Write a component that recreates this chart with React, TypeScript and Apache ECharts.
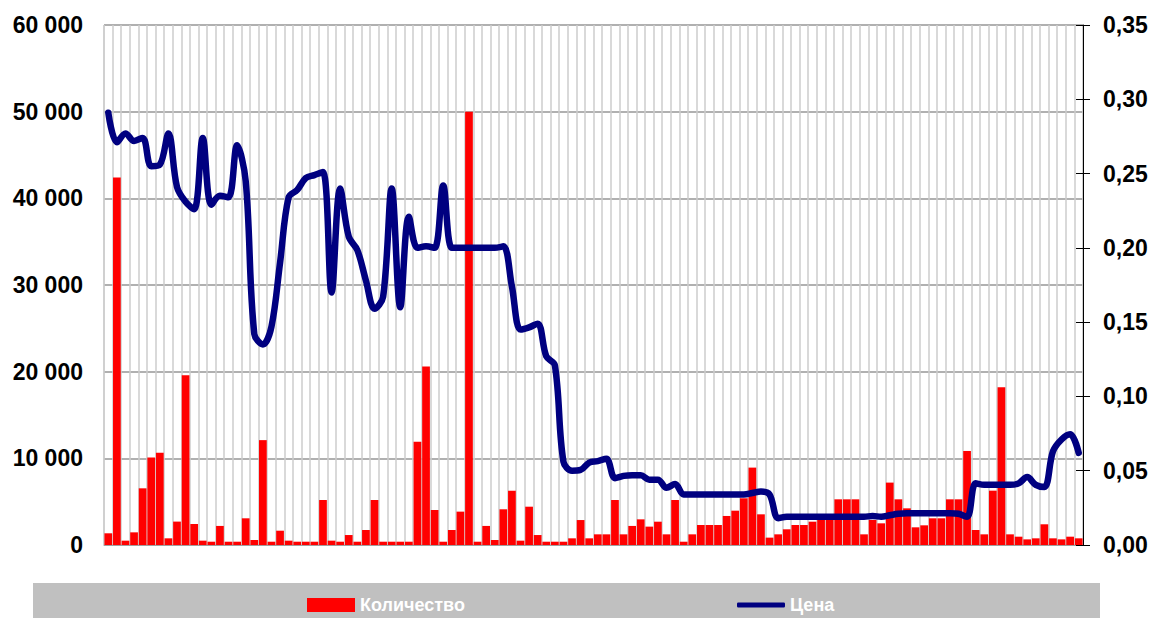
import React, { useEffect, useRef } from "react";
import * as echarts from "echarts";

const quantity: number[] = [
  1350, 42400, 500, 1460, 6540, 10100, 10650, 770, 2700, 19600,
  2420, 500, 380, 2200, 380, 380, 3080, 580, 12100, 380,
  1650, 500, 380, 380, 380, 5190, 500, 380, 1150, 380,
  1730, 5190, 380, 380, 380, 380, 11900, 20600, 4040, 380,
  1730, 3850, 50000, 380, 2200, 580, 4120, 6270, 500, 4420,
  1150, 380, 380, 380, 770, 2880, 770, 1230, 1230, 5190,
  1230, 2200, 2960, 2120, 2690, 1230, 5190, 380, 1230, 2310,
  2310, 2310, 3350, 3960, 5390, 8930, 3540, 850, 1230, 1810,
  2310, 2310, 2690, 2890, 2890, 5270, 5270, 5270, 1230, 2890,
  2500, 7200, 5270, 4230, 2040, 2270, 3080, 3080, 5270, 5270,
  10850, 1730, 1230, 6270, 18200, 1230, 960, 650, 770, 2390,
  770, 650, 960, 770,
];

const price: number[] = [
  0.291, 0.271, 0.277, 0.272, 0.274, 0.255, 0.256, 0.277, 0.241, 0.231,
  0.226, 0.274, 0.229, 0.235, 0.234, 0.269, 0.245, 0.142, 0.135, 0.147,
  0.190, 0.234, 0.239, 0.247, 0.249, 0.251, 0.170, 0.240, 0.2075, 0.1985,
  0.178, 0.159, 0.167, 0.240, 0.160, 0.221, 0.200, 0.201, 0.200, 0.242,
  0.200, 0.200, 0.200, 0.200, 0.200, 0.200, 0.201, 0.174, 0.145, 0.1465,
  0.149, 0.127, 0.121, 0.056, 0.050, 0.0505, 0.0555, 0.0565, 0.058, 0.045,
  0.0465, 0.047, 0.047, 0.044, 0.044, 0.0385, 0.041, 0.034, 0.034, 0.034,
  0.034, 0.034, 0.034, 0.034, 0.034, 0.035, 0.036, 0.034, 0.018, 0.019,
  0.019, 0.019, 0.019, 0.019, 0.019, 0.019, 0.019, 0.019, 0.019, 0.0195,
  0.019, 0.020, 0.021, 0.0214, 0.0214, 0.0214, 0.0214, 0.0214, 0.0214, 0.021,
  0.019, 0.0415, 0.0405, 0.0405, 0.0405, 0.0405, 0.0415, 0.0457, 0.0405, 0.039,
  0.063, 0.071, 0.0745, 0.062,
];

const categories: string[] = quantity.map((_, i) => String(i + 1));

const leftTicks = { min: 0, max: 60000, interval: 10000 };
const rightTicks = { min: 0, max: 0.35, interval: 0.05 };

const seriesNames = { qty: "Количество", price: "Цена" };

const fmtThousands = (v: number) =>
  v === 0 ? "0" : String(v).replace(/\B(?=(\d{3})+(?!\d))/g, " ");
const fmtPrice = (v: number) => v.toFixed(2).replace(".", ",");

export default function App() {
  const ref = useRef<HTMLDivElement>(null);

  useEffect(() => {
    if (!ref.current) return;
    const chart = echarts.init(ref.current, undefined, { renderer: "svg" });
    const labelFont = {
      color: "#000",
      fontWeight: "bold" as const,
      fontSize: 23,
      fontFamily: "Liberation Sans, Arial, sans-serif",
    };
    const legendText = {
      color: "#ffffff",
      fontWeight: "bold" as const,
      fontSize: 18,
      fontFamily: "Liberation Sans, Arial, sans-serif",
    };
    chart.setOption({
      animation: false,
      backgroundColor: "#ffffff",
      graphic: [
        {
          type: "rect",
          shape: { x: 33, y: 583, width: 1067, height: 40 },
          style: { fill: "#c0c0c0" },
          z: -10,
        },
      ],
      grid: {
        left: 104,
        right: 70,
        top: 25,
        bottom: 73,
        show: true,
        borderColor: "#b3b3b3",
        borderWidth: 1,
      },
      legend: [
        {
          data: [{ name: seriesNames.qty, icon: "rect" }],
          left: 307,
          top: 596,
          padding: 0,
          itemWidth: 48,
          itemHeight: 14,
          textStyle: legendText,
        },
        {
          data: [{ name: seriesNames.price, icon: "roundRect" }],
          left: 737,
          top: 596,
          padding: 0,
          itemWidth: 48,
          itemHeight: 5,
          textStyle: legendText,
        },
      ],
      xAxis: {
        type: "category",
        data: categories,
        boundaryGap: true,
        axisLabel: { show: false },
        axisTick: { show: false },
        axisLine: { show: true, lineStyle: { color: "#a0a0a0", width: 1 } },
        splitLine: {
          show: true,
          interval: 0,
          lineStyle: { color: "#cdcdcd", width: 1.5 },
        },
      },
      yAxis: [
        {
          type: "value",
          position: "left",
          ...leftTicks,
          axisLine: { show: false },
          axisTick: { show: false },
          axisLabel: { ...labelFont, margin: 21, formatter: fmtThousands },
          splitLine: { show: true, lineStyle: { color: "#b0b0b0", width: 2 } },
        },
        {
          type: "value",
          position: "right",
          ...rightTicks,
          axisLine: { show: true, lineStyle: { color: "#000", width: 1 } },
          axisTick: { show: true, inside: false, length: 7, lineStyle: { color: "#000" } },
          axisLabel: { ...labelFont, margin: 20, formatter: fmtPrice },
          splitLine: { show: false },
        },
        {
          type: "value",
          position: "right",
          ...rightTicks,
          axisLine: { show: false },
          axisTick: { show: true, inside: true, length: 7, lineStyle: { color: "#000" } },
          axisLabel: { show: false },
          splitLine: { show: false },
        },
      ],
      series: [
        {
          name: seriesNames.qty,
          type: "bar",
          data: quantity,
          yAxisIndex: 0,
          barCategoryGap: "10%",
          itemStyle: { color: "#ff0000" },
        },
        {
          name: seriesNames.price,
          type: "line",
          data: price,
          yAxisIndex: 1,
          smooth: 0.35,
          symbol: "none",
          itemStyle: { color: "#000080" },
          lineStyle: { color: "#000080", width: 6.5, cap: "round", join: "round" },
          z: 5,
        },
      ],
    });
    return () => chart.dispose();
  }, []);

  return (
    <div
      ref={ref}
      style={{ position: "fixed", left: 0, top: 0, width: 1153, height: 618 }}
    />
  );
}
